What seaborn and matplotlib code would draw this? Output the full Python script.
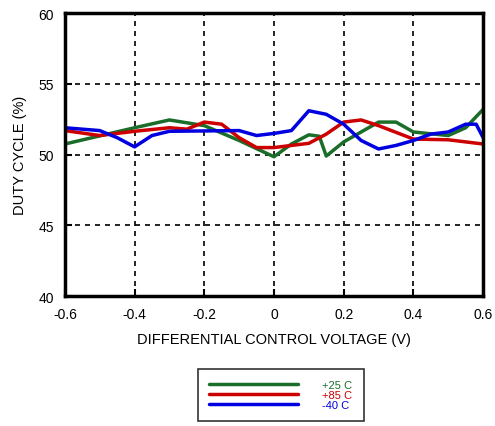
import matplotlib
matplotlib.use("Agg")
import matplotlib.pyplot as plt
import pandas as pd
import seaborn as sns

green_x = [-0.6, -0.4, -0.3, -0.2, -0.1, 0.0, 0.05, 0.1, 0.13, 0.15, 0.2, 0.3, 0.35, 0.4, 0.5, 0.55, 0.6]
green_y = [50.75, 51.9, 52.45, 52.05, 51.0, 49.85, 50.75, 51.4, 51.3, 49.9, 50.9, 52.3, 52.3, 51.6, 51.35, 51.9, 53.2]

red_x = [-0.6, -0.5, -0.4, -0.3, -0.25, -0.2, -0.15, -0.1, -0.05, 0.0, 0.1, 0.15, 0.2, 0.25, 0.3, 0.4, 0.5, 0.6]
red_y = [51.7, 51.35, 51.65, 51.9, 51.8, 52.3, 52.15, 51.2, 50.5, 50.5, 50.8, 51.45, 52.3, 52.45, 52.05, 51.1, 51.05, 50.75]

blue_x = [-0.6, -0.5, -0.45, -0.4, -0.35, -0.3, -0.1, -0.05, 0.0, 0.05, 0.1, 0.15, 0.2, 0.25, 0.3, 0.35, 0.4, 0.45, 0.5, 0.55, 0.58, 0.6]
blue_y = [51.9, 51.7, 51.2, 50.55, 51.35, 51.65, 51.7, 51.35, 51.5, 51.7, 53.1, 52.85, 52.15, 51.0, 50.4, 50.65, 51.0, 51.45, 51.6, 52.15, 52.15, 51.2]

series = [
    ("+25 C", green_x, green_y, "#1a6e2a"),
    ("+85 C", red_x, red_y, "#cc0000"),
    ("-40 C", blue_x, blue_y, "#0000e0"),
]

sns.set_style("ticks")
plt.rcParams["font.family"] = ["Liberation Sans", "DejaVu Sans"]
plt.rcParams["text.color"] = "black"
plt.rcParams["axes.labelcolor"] = "black"
plt.rcParams["xtick.color"] = "black"
plt.rcParams["ytick.color"] = "black"

fig = plt.figure(figsize=(4.95, 4.27), dpi=100)
ax = fig.add_axes([0.131, 0.304, 0.845, 0.663])

handles = []
for name, xs, ys, col in series:
    df = pd.DataFrame({"x": xs, "y": ys})
    sns.lineplot(data=df, x="x", y="y", ax=ax, color=col, linewidth=2.5, sort=False)
    handles.append(ax.lines[-1])

ax.set_xlim(-0.6, 0.6)
ax.set_ylim(40, 60)
ax.set_xticks([-0.6, -0.4, -0.2, 0, 0.2, 0.4, 0.6])
ax.set_xticklabels(["-0.6", "-0.4", "-0.2", "0", "0.2", "0.4", "0.6"])
ax.set_yticks([40, 45, 50, 55, 60])
ax.grid(True, color="black", linestyle=(0, (3, 3)), linewidth=1.2)
for s in ax.spines.values():
    s.set_linewidth(2.5)
    s.set_color("black")
ax.tick_params(direction="in", length=5, width=1.5, labelsize=10, pad=8)
ax.set_xlabel("DIFFERENTIAL CONTROL VOLTAGE (V)", fontsize=10.5, labelpad=8)
ax.set_ylabel("DUTY CYCLE (%)", fontsize=10.5, labelpad=8)

leg = fig.legend(handles, [s[0] for s in series], loc="center",
                 bbox_to_anchor=(0.567, 0.072), fontsize=8, frameon=True,
                 fancybox=False, edgecolor="black", handlelength=8,
                 borderpad=1.0, labelspacing=0.0, handletextpad=2.2,
                 borderaxespad=0)
leg.get_frame().set_linewidth(1.2)
for t, s in zip(leg.get_texts(), series):
    t.set_color(s[3])

fig.savefig("out.png", dpi=100)
